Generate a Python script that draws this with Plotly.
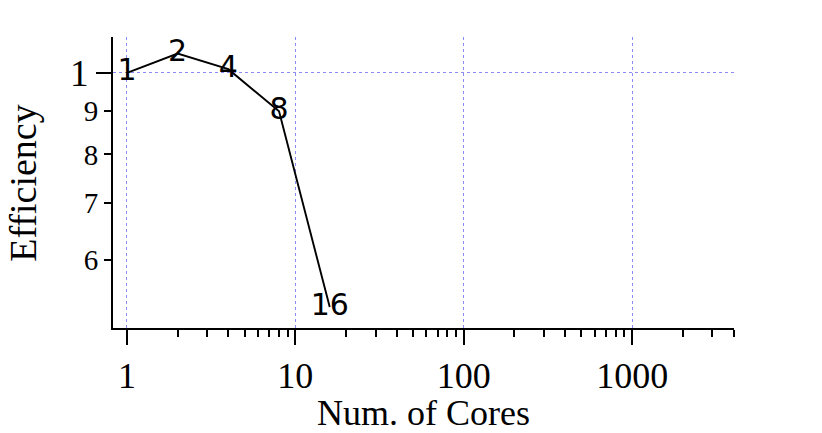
import plotly.graph_objects as go

cores = [1, 2, 4, 8, 16]
efficiency = [1.0, 1.054, 1.01, 0.90, 0.527]
point_labels = ["1", "2", "4", "8", "16"]

x_major_vals = [1, 10, 100, 1000]
x_major_text = ["1", "10", "100", "1000"]
x_minor_vals = [m * d for d in (1, 10, 100) for m in range(2, 10)] + [2000, 3000, 4000]

y_major_vals = [1]
y_major_text = ["1"]
y_minor_vals = [0.9, 0.8, 0.7, 0.6]
y_minor_text = ["9", "8", "7", "6"]

x_range = [-0.083, 3.605]
y_range = [-0.303, 0.0425]

grid_color = "rgba(110,110,240,0.8)"
serif = "Liberation Serif"

fig = go.Figure()
fig.add_trace(go.Scatter(
    x=cores, y=efficiency, text=point_labels,
    mode="lines+text", textposition="middle center",
    textfont=dict(family="DejaVu Sans", size=30, color="black"),
    line=dict(color="black", width=1.9),
    showlegend=False, hoverinfo="x+y",
))
# invisible companion so the secondary (minor-label) y axis is drawn
fig.add_trace(go.Scatter(
    x=cores, y=efficiency, yaxis="y2", mode="markers",
    marker=dict(opacity=0), showlegend=False, hoverinfo="skip",
))

fig.update_layout(
    width=822, height=433,
    margin=dict(l=113, r=88, t=37, b=105),
    plot_bgcolor="white", paper_bgcolor="white",
    font=dict(family=serif, color="black"),
    xaxis=dict(
        type="log", range=x_range,
        tickmode="array", tickvals=x_major_vals, ticktext=x_major_text,
        ticks="outside", ticklen=15, tickwidth=2, tickcolor="black",
        tickfont=dict(family=serif, size=36),
        showline=True, linecolor="black", linewidth=2,
        showgrid=True, gridcolor=grid_color, griddash="dot", gridwidth=1,
        zeroline=False,
        minor=dict(tickmode="array", tickvals=x_minor_vals, ticks="outside",
                   ticklen=7, tickwidth=2, tickcolor="black", showgrid=False),
        title=dict(text="Num. of Cores", font=dict(family=serif, size=36), standoff=0),
        automargin=False,
    ),
    yaxis=dict(
        type="log", range=y_range,
        tickmode="array", tickvals=y_major_vals, ticktext=y_major_text,
        ticks="outside", ticklen=15, tickwidth=2, tickcolor="black",
        tickfont=dict(family=serif, size=37),
        showline=True, linecolor="black", linewidth=2,
        showgrid=True, gridcolor=grid_color, griddash="dot", gridwidth=1,
        zeroline=False,
        automargin=False,
    ),
    yaxis2=dict(
        type="log", range=y_range, overlaying="y", side="left", anchor="x",
        tickmode="array", tickvals=y_minor_vals, ticktext=y_minor_text,
        ticks="outside", ticklen=8, tickwidth=2, tickcolor="black",
        tickfont=dict(family=serif, size=29), ticklabelstandoff=0,
        showline=False, showgrid=False, zeroline=False,
    ),
    annotations=[dict(
        text="Efficiency", xref="paper", yref="paper",
        x=-0.146, y=0.5, xanchor="center", yanchor="middle",
        textangle=-90, showarrow=False,
        font=dict(family=serif, size=38, color="black"),
    )],
)

fig.write_html("out.html")
